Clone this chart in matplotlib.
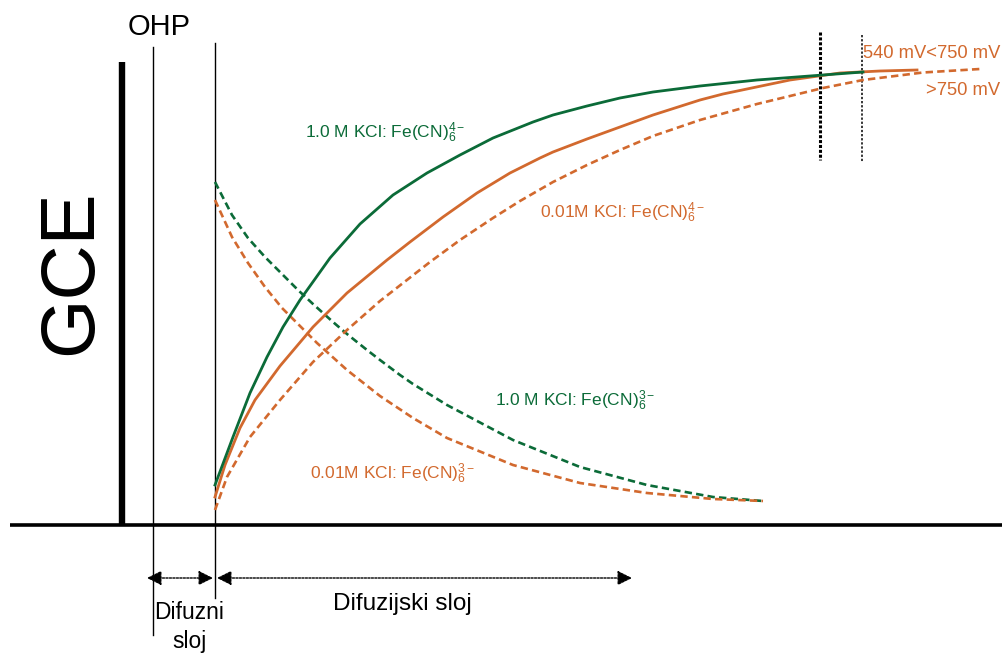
import matplotlib.pyplot as plt

plt.rcParams['font.family'] = ['Liberation Sans', 'DejaVu Sans']
plt.rcParams['mathtext.fontset'] = 'custom'
plt.rcParams['mathtext.rm'] = 'Liberation Sans'
plt.rcParams['mathtext.it'] = 'Liberation Sans'

GREEN = '#0b6b38'
ORANGE = '#d2692e'

# concentration profiles (x = distance, y = height in px, down is larger)
green_ox_x = [215, 233, 250, 267, 283, 300, 330, 360, 393, 427, 460, 493, 533, 553, 587, 620, 653, 700, 757, 823, 863]
green_ox_y = [485, 437, 393, 357, 327, 300, 258, 224, 195, 173, 155, 138, 122, 115, 106, 98, 92, 86, 80, 75, 72]

orange_ox_x = [215, 225, 240, 255, 280, 313, 347, 387, 410, 443, 477, 510, 540, 553, 587, 620, 653, 700, 723, 790, 840, 880, 917]
orange_ox_y = [497, 465, 428, 400, 366, 327, 293, 260, 242, 217, 193, 173, 158, 152, 139, 127, 115, 100, 94, 80, 73, 71, 70]

orange_ox_hi_x = [215, 227, 250, 280, 313, 347, 380, 430, 460, 493, 520, 553, 587, 620, 653, 700, 757, 823, 863, 923, 980]
orange_ox_hi_y = [510, 477, 437, 400, 362, 330, 301, 262, 240, 218, 201, 182, 165, 150, 136, 120, 104, 88, 80, 72.5, 69]

green_red_x = [215, 232, 248, 265, 282, 298, 313, 333, 347, 367, 380, 400, 413, 447, 513, 580, 647, 713, 763]
green_red_y = [182, 215, 238, 257, 274, 290, 304, 322, 334, 350, 360, 375, 384, 405, 440, 467, 485, 497, 501]

orange_red_x = [215, 232, 248, 265, 282, 300, 317, 347, 380, 413, 447, 513, 580, 647, 713, 763]
orange_red_y = [200, 237, 263, 287, 308, 326, 343, 370, 396, 418, 438, 465, 483, 493, 499, 501]

fig = plt.figure(figsize=(10.03, 6.59), dpi=100)
ax = fig.add_axes([0, 0, 1, 1])
ax.set_xlim(0, 1003)
ax.set_ylim(659, 0)
ax.axis('off')

# electrode, planes and baseline
ax.plot([10, 1003], [525, 525], color='k', lw=2.6, solid_capstyle='butt')
ax.plot([122, 122], [62, 525], color='k', lw=4.6, solid_capstyle='butt')
ax.plot([153, 153], [47, 635], color='k', lw=1.0)
ax.plot([215, 215], [43, 598], color='k', lw=1.0)
ax.plot([820, 820], [32, 160], color='k', lw=2.2, linestyle=(0, (1, 0.6)))
ax.plot([862, 862], [35, 162], color='k', lw=1.1, linestyle=(0, (1.5, 1.2)))

dash = (0, (2.8, 1.6))
ax.plot(green_red_x, green_red_y, color=GREEN, lw=1.9, linestyle=dash)
ax.plot(orange_red_x, orange_red_y, color=ORANGE, lw=1.9, linestyle=dash)
ax.plot(orange_ox_hi_x, orange_ox_hi_y, color=ORANGE, lw=1.9, linestyle=dash)
ax.plot(orange_ox_x, orange_ox_y, color=ORANGE, lw=2.0)
ax.plot(green_ox_x, green_ox_y, color=GREEN, lw=2.0)

# arrows for the layers
arrow = dict(arrowstyle='<|-|>', color='k', lw=1.0, linestyle=(0, (1.5, 1)),
             mutation_scale=22, shrinkA=0, shrinkB=0)
ax.annotate('', xy=(213, 578), xytext=(147, 578), arrowprops=arrow)
ax.annotate('', xy=(632, 578), xytext=(217, 578), arrowprops=arrow)

# labels
ax.text(128, 35, 'OHP', fontsize=21, color='k', ha='left', va='baseline')
ax.text(72, 272, 'GCE', fontsize=55, color='k', rotation=90, ha='center', va='center')
ax.text(402, 610, 'Difuzijski sloj', fontsize=17.5, ha='center', va='baseline')
ax.text(189, 619, 'Difuzni', fontsize=16.5, ha='center', va='baseline')
ax.text(189, 648, 'sloj', fontsize=16.5, ha='center', va='baseline')

ax.text(305, 138, r'1.0 M KCl: Fe(CN)$_6^{4-}$', fontsize=12.5, color=GREEN, va='baseline')
ax.text(540, 218, r'0.01M KCl: Fe(CN)$_6^{4-}$', fontsize=12.5, color=ORANGE, va='baseline')
ax.text(495, 406, r'1.0 M KCl: Fe(CN)$_6^{3-}$', fontsize=12.5, color=GREEN, va='baseline')
ax.text(310, 479, r'0.01M KCl: Fe(CN)$_6^{3-}$', fontsize=12.5, color=ORANGE, va='baseline')
ax.text(863, 58, '540 mV<750 mV', fontsize=13.2, color=ORANGE, va='baseline')
ax.text(1000, 95, '>750 mV', fontsize=13.2, color=ORANGE, ha='right', va='baseline')

fig.savefig('out.png', dpi=100)
